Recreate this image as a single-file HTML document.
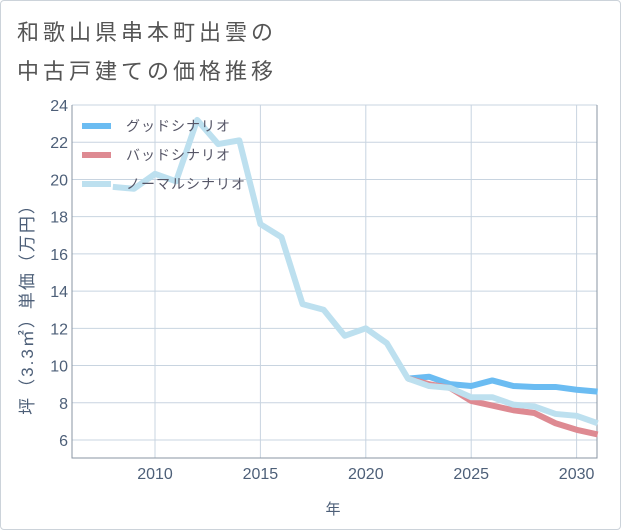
<!DOCTYPE html>
<html><head><meta charset="utf-8"><style>
body{margin:0;background:#fff;font-family:"Liberation Sans","Noto Sans CJK JP",sans-serif;}
#wrap{position:relative;width:619px;height:528px;border:1px solid #ccd3da;border-radius:4px;background:#fff;}
</style></head><body>
<div id="wrap">
<svg id="chart" width="621" height="530" style="position:absolute;left:-1px;top:-1px">
<text x="17" y="40" font-size="22" letter-spacing="4" fill="#555">和歌山県串本町出雲の</text>
<text x="17" y="79" font-size="22" letter-spacing="4" fill="#555">中古戸建ての価格推移</text>
<g id="grid"></g><g id="series"></g><g id="legend"></g>
<text x="333" y="514" font-size="15" fill="#4d5f78" text-anchor="middle">年</text>
<text transform="translate(33,305) rotate(-90)" font-size="17" letter-spacing="2" fill="#4d5f78" text-anchor="middle">坪（3.3㎡）単価（万円）</text>
</svg></div>
<script>
const yearsNormal=[2008,2009,2010,2011,2012,2013,2014,2015,2016,2017,2018,2019,2020,2021,2022,2023,2024,2025,2026,2027,2028,2029,2030,2031];
const normalValues=[19.6,19.5,20.3,19.9,23.2,21.9,22.1,17.6,16.9,13.3,13.0,11.6,12.0,11.2,9.3,8.9,8.8,8.3,8.3,7.9,7.8,7.4,7.3,6.9];
const yearsForecast=[2022,2023,2024,2025,2026,2027,2028,2029,2030,2031];
const goodValues=[9.3,9.4,9.0,8.9,9.2,8.9,8.85,8.85,8.7,8.6];
const badValues=[9.3,9.0,8.8,8.1,7.85,7.6,7.45,6.9,6.55,6.3];
const xTicks=[2010,2015,2020,2025,2030];
const yTicks=[6,8,10,12,14,16,18,20,22,24];
const L=72,R=597,T=105,B=458;
const xs=y=>155+(y-2010)*21.08;
const ys=v=>440-(v-6)*18.61;
const NS='http://www.w3.org/2000/svg';
function mk(tag,attrs,parent){const e=document.createElementNS(NS,tag);for(const k in attrs)e.setAttribute(k,attrs[k]);parent.appendChild(e);return e;}
const grid=document.getElementById('grid');
yTicks.forEach(t=>{
 const l=mk('line',{x1:L,x2:R,y1:ys(t),y2:ys(t),stroke:'#c8d4e0','stroke-width':1},grid);
 
 
 const tx=mk('text',{x:L-4,y:ys(t)+6,'font-size':16,fill:'#4d5f78','text-anchor':'end'},grid);
 tx.textContent=t;
 
 
});
xTicks.forEach(t=>{
 const l=mk('line',{x1:xs(t),x2:xs(t),y1:T,y2:B,stroke:'#c8d4e0','stroke-width':1},grid);
 
 
 const tx=mk('text',{x:xs(t),y:B+21,'font-size':16,fill:'#4d5f78','text-anchor':'middle'},grid);
 tx.textContent=t;
 
 
});
const ax=mk('path',{d:`M${L},${T}V${B}H${R}V${T}`,fill:'none',stroke:'#8a96a3','stroke-width':1},grid);


const ser=document.getElementById('series');
function line(xv,yv,color,name){
 const p=mk('polyline',{points:xv.map((x,i)=>xs(x)+','+ys(yv[i])).join(' '),fill:'none',stroke:color,'stroke-width':6,'stroke-linejoin':'round'},ser);
 
 
}
line(yearsForecast,goodValues,'#6bbcf2','good-scenario-line');
line(yearsForecast,badValues,'#de8a92','bad-scenario-line');
line(yearsNormal,normalValues,'#bde0ef','normal-scenario-line');
const lg=document.getElementById('legend');
[['グッドシナリオ','#6bbcf2'],['バッドシナリオ','#de8a92'],['ノーマルシナリオ','#bde0ef']].forEach((d,i)=>{
 const y=126+i*29;
 const g=mk('g',{},lg);
 
 
 mk('line',{x1:82,x2:111,y1:y,y2:y,stroke:d[1],'stroke-width':6},g);
 const t=mk('text',{x:126,y:y+5,'font-size':14,'letter-spacing':1,fill:'#556'},g);
 t.textContent=d[0];
});
</script></body></html>
